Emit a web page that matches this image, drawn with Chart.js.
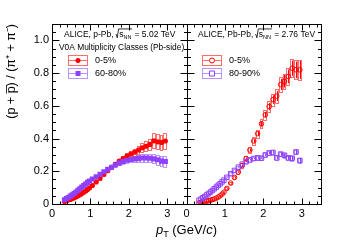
<!DOCTYPE html>
<html><head><meta charset="utf-8">
<script src="https://cdn.jsdelivr.net/npm/chart.js@4/dist/chart.umd.min.js"></script>
<style>html,body{margin:0;padding:0;background:#fff}canvas{display:block}</style>
</head><body>
<canvas id="c" width="357" height="241"></canvas>
<script>
// ---- data ----
const ptBins = [0.325,0.375,0.425,0.475,0.525,0.575,0.625,0.675,0.725,0.775,0.825,0.875,0.925,0.975,
  1.05,1.15,1.25,1.35,1.45,1.55,1.65,1.75,1.85,1.95,2.05,2.15,2.25,2.35,2.45,2.55,2.65,2.75,2.85,2.95];
const ptHalfWidth = [0.025,0.025,0.025,0.025,0.025,0.025,0.025,0.025,0.025,0.025,0.025,0.025,0.025,0.025,
  0.05,0.05,0.05,0.05,0.05,0.05,0.05,0.05,0.05,0.05,0.05,0.05,0.05,0.05,0.05,0.05,0.05,0.05,0.05,0.05];

// p-Pb 5.02 TeV, V0A 0-5%
const pPb_0_5 = [0.016,0.020,0.024,0.028,0.033,0.038,0.044,0.050,0.057,0.064,0.072,0.080,0.089,0.098,
  0.113,0.135,0.158,0.182,0.204,0.224,0.243,0.262,0.278,0.292,0.305,0.317,0.330,0.343,0.353,0.364,0.386,0.380,0.376,0.385];
const pPb_0_5_stat = [0.001,0.001,0.001,0.001,0.001,0.001,0.001,0.001,0.001,0.001,0.001,0.001,0.001,0.001,
  0.001,0.001,0.002,0.002,0.002,0.002,0.003,0.003,0.003,0.004,0.004,0.005,0.005,0.006,0.006,0.007,0.008,0.009,0.010,0.012];
const pPb_0_5_sys = [0.001,0.0015,0.002,0.002,0.0025,0.003,0.003,0.0035,0.004,0.0045,0.005,0.0055,0.006,0.0065,
  0.007,0.008,0.009,0.010,0.011,0.012,0.013,0.014,0.016,0.018,0.020,0.022,0.025,0.027,0.030,0.035,0.045,0.045,0.048,0.050];

// p-Pb 5.02 TeV, V0A 60-80%
const pPb_60_80 = [0.026,0.033,0.040,0.048,0.056,0.064,0.073,0.083,0.093,0.103,0.113,0.122,0.132,0.141,
  0.153,0.167,0.181,0.197,0.212,0.225,0.238,0.250,0.260,0.267,0.272,0.276,0.279,0.281,0.281,0.280,0.276,0.270,0.262,0.260];
const pPb_60_80_stat = [0.001,0.001,0.001,0.001,0.001,0.001,0.001,0.001,0.001,0.001,0.001,0.001,0.001,0.001,
  0.001,0.001,0.002,0.002,0.002,0.002,0.002,0.003,0.003,0.003,0.004,0.004,0.005,0.005,0.006,0.006,0.007,0.008,0.009,0.010];
const pPb_60_80_sys = [0.002,0.002,0.003,0.003,0.003,0.004,0.004,0.005,0.005,0.006,0.006,0.007,0.007,0.008,
  0.008,0.009,0.010,0.011,0.011,0.012,0.012,0.013,0.013,0.014,0.016,0.018,0.020,0.022,0.024,0.026,0.028,0.030,0.032,0.034];

// Pb-Pb 2.76 TeV, 0-5%
const PbPb_0_5 = [0.008,0.010,0.012,0.014,0.017,0.020,0.023,0.027,0.031,0.036,0.042,0.050,0.060,0.072,
  0.095,0.128,0.162,0.195,0.235,0.278,0.330,0.385,0.430,0.490,0.545,0.595,0.638,0.660,0.730,0.750,0.780,0.830,0.820,0.820];
const PbPb_0_5_stat = [0.001,0.001,0.001,0.001,0.001,0.001,0.001,0.001,0.001,0.001,0.001,0.001,0.001,0.002,
  0.002,0.003,0.003,0.004,0.005,0.006,0.008,0.010,0.012,0.015,0.018,0.022,0.026,0.030,0.034,0.038,0.042,0.046,0.050,0.055];
const PbPb_0_5_sys = [0.001,0.001,0.001,0.0015,0.0015,0.002,0.002,0.002,0.0025,0.003,0.003,0.0035,0.004,0.005,
  0.006,0.008,0.010,0.012,0.014,0.016,0.019,0.022,0.025,0.028,0.031,0.034,0.037,0.040,0.044,0.047,0.050,0.055,0.058,0.060];

// Pb-Pb 2.76 TeV, 80-90%
const PbPb_80_90 = [0.022,0.030,0.038,0.046,0.055,0.064,0.073,0.083,0.093,0.103,0.114,0.124,0.135,0.146,
  0.163,0.185,0.205,0.225,0.243,0.258,0.270,0.278,0.282,0.280,0.300,0.312,0.315,0.282,0.305,0.298,0.282,0.280,0.318,0.266];
const PbPb_80_90_stat = [0.001,0.001,0.001,0.001,0.001,0.001,0.001,0.001,0.001,0.001,0.001,0.001,0.001,0.001,
  0.002,0.002,0.002,0.003,0.003,0.003,0.004,0.004,0.005,0.005,0.006,0.007,0.008,0.009,0.010,0.011,0.012,0.013,0.015,0.016];
const PbPb_80_90_sys = [0.003,0.003,0.003,0.004,0.004,0.004,0.005,0.005,0.005,0.006,0.006,0.006,0.007,0.007,
  0.008,0.008,0.009,0.009,0.010,0.010,0.011,0.011,0.012,0.012,0.012,0.013,0.013,0.013,0.014,0.014,0.014,0.015,0.015,0.015];

const xTickLabels = [0,1,2,3];
const yTickLabels = [0,0.2,0.4,0.6,0.8,1];

// ---- styles ----
const RED = '#ff0000', RED_BOX = 'rgba(255,60,60,0.75)';
const VIO = '#9040ff', VIO_BOX = 'rgba(160,100,255,0.7)';
const FONT = '"Liberation Sans", Arial, Helvetica, sans-serif';

const pts = arr => ptBins.map((x, i) => ({x, y: arr[i]}));

const seriesInfo = [
  {axis:'x1', vals:pPb_0_5, stat:pPb_0_5_stat, sys:pPb_0_5_sys, color:RED, box:RED_BOX},
  {axis:'x1', vals:pPb_60_80, stat:pPb_60_80_stat, sys:pPb_60_80_sys, color:VIO, box:VIO_BOX},
  {axis:'x2', vals:PbPb_0_5, stat:PbPb_0_5_stat, sys:PbPb_0_5_sys, color:RED, box:RED_BOX},
  {axis:'x2', vals:PbPb_80_90, stat:PbPb_80_90_stat, sys:PbPb_80_90_sys, color:VIO, box:VIO_BOX}
];

const errorPlugin = {
  id:'errs',
  beforeDatasetsDraw(chart){
    const ctx = chart.ctx, y = chart.scales.y;
    ctx.save();
    ctx.beginPath();
    ctx.rect(chart.chartArea.left, chart.chartArea.top, chart.chartArea.right-chart.chartArea.left, chart.chartArea.bottom-chart.chartArea.top);
    ctx.clip();
    ctx.lineWidth = 1;
    seriesInfo.forEach(s => {
      const x = chart.scales[s.axis];
      ptBins.forEach((pt, i) => {
        const x0 = Math.round(x.getPixelForValue(pt - ptHalfWidth[i])) + 0.5;
        const x1 = Math.round(x.getPixelForValue(pt + ptHalfWidth[i])) - 0.5;
        const y0 = Math.round(y.getPixelForValue(s.vals[i] + s.sys[i])) + 0.5;
        const y1 = Math.round(y.getPixelForValue(s.vals[i] - s.sys[i])) + 0.5;
        ctx.strokeStyle = s.box;
        ctx.strokeRect(x0, y0, Math.max(x1 - x0, 1), Math.max(y1 - y0, 1));
        const xc = Math.round(x.getPixelForValue(pt)) + 0.5;
        ctx.strokeStyle = s.color;
        ctx.beginPath();
        ctx.moveTo(xc, y.getPixelForValue(s.vals[i] + s.stat[i]));
        ctx.lineTo(xc, y.getPixelForValue(s.vals[i] - s.stat[i]));
        ctx.stroke();
      });
    });
    ctx.restore();
  }
};

function drawTicks(ctx, xs, y, ca) {
  const L = Math.round(xs.left) + 0.5, R = Math.round(xs.right) + 0.5;
  const T = Math.round(ca.top) + 0.5, B = Math.round(ca.bottom) + 0.5;
  ctx.strokeStyle = '#000'; ctx.lineWidth = 1;
  ctx.strokeRect(L, T, R - L, B - T);
  ctx.beginPath();
  for (let v = 0; v <= 1.1001; v += 0.05) {
    const major = Math.abs(v/0.2 - Math.round(v/0.2)) < 1e-6;
    const len = major ? 7 : 3.5;
    const py = Math.round(y.getPixelForValue(v)) + 0.5;
    ctx.moveTo(L, py); ctx.lineTo(L + len, py);
    ctx.moveTo(R, py); ctx.lineTo(R - len, py);
  }
  for (let v = 0; v <= 3.5001; v += 0.2) {
    const major = Math.abs(v - Math.round(v)) < 1e-6;
    const len = major ? 6 : 3;
    const px = Math.round(xs.getPixelForValue(v)) + 0.5;
    ctx.moveTo(px, B); ctx.lineTo(px, B - len);
    ctx.moveTo(px, T); ctx.lineTo(px, T + len);
  }
  ctx.stroke();
}

function aliceLabel(ctx, x, y, prefix, suffix, fs) {
  ctx.fillStyle = '#000';
  ctx.font = fs + 'px ' + FONT;
  ctx.textAlign = 'left'; ctx.textBaseline = 'alphabetic';
  ctx.fillText(prefix, x, y);
  x += ctx.measureText(prefix).width;
  const h = fs * 0.95;
  const sW = ctx.measureText('s').width;
  ctx.font = (fs * 0.65) + 'px ' + FONT;
  const nnW = ctx.measureText('NN').width;
  const end = x + 3.5 + sW + nnW + 0.5;
  ctx.strokeStyle = '#000'; ctx.lineWidth = 0.8;
  ctx.beginPath();
  ctx.moveTo(x, y - 3); ctx.lineTo(x + 1.3, y + 0.8); ctx.lineTo(x + 2.6, y - h); ctx.lineTo(end, y - h);
  ctx.stroke();
  ctx.font = fs + 'px ' + FONT;
  ctx.fillText('s', x + 3.2, y);
  ctx.font = (fs * 0.65) + 'px ' + FONT;
  ctx.fillText('NN', x + 3.2 + sW, y + 2);
  ctx.font = fs + 'px ' + FONT;
  ctx.fillText(suffix, end, y);
}

function legendEntry(ctx, bx, cy, boxColor, color, style, filled, label) {
  ctx.lineWidth = 1;
  ctx.strokeStyle = boxColor;
  ctx.strokeRect(bx + 0.5, cy - 4.5, 19, 10);
  ctx.beginPath();
  ctx.moveTo(bx + 1, cy + 0.5); ctx.lineTo(bx + 19, cy + 0.5);
  ctx.stroke();
  const mx = bx + 10, my = cy + 0.5;
  ctx.strokeStyle = color; ctx.fillStyle = color;
  ctx.beginPath();
  if (style === 'circle') ctx.arc(mx, my, 2.5, 0, Math.PI * 2);
  else ctx.rect(mx - 2.5, my - 2.5, 5, 5);
  if (filled) ctx.fill(); else { ctx.fillStyle = '#fff'; ctx.fill(); ctx.stroke(); }
  ctx.fillStyle = '#000';
  ctx.font = '9px ' + FONT;
  ctx.textAlign = 'left'; ctx.textBaseline = 'middle';
  ctx.fillText(label, bx + 27, cy + 0.5);
}

const framePlugin = {
  id:'frame',
  afterDraw(chart){
    const ctx = chart.ctx, ca = chart.chartArea, y = chart.scales.y;
    ctx.save();
    drawTicks(ctx, chart.scales.x1, y, ca);
    drawTicks(ctx, chart.scales.x2, y, ca);
    // panel texts
    aliceLabel(ctx, 64, 37, 'ALICE, p-Pb, ', ' = 5.02 TeV', 8.5);
    ctx.font = '8.4px ' + FONT; ctx.textAlign = 'left'; ctx.textBaseline = 'alphabetic';
    ctx.fillText('V0A Multiplicity Classes (Pb-side)', 59, 50);
    aliceLabel(ctx, 198, 37, 'ALICE, Pb-Pb, ', ' = 2.76 TeV', 8.5);
    legendEntry(ctx, 68, 60, RED_BOX, RED, 'circle', true, '0-5%');
    legendEntry(ctx, 68, 73, VIO_BOX, VIO, 'rect', true, '60-80%');
    legendEntry(ctx, 202, 60, RED_BOX, RED, 'circle', false, '0-5%');
    legendEntry(ctx, 202, 73, VIO_BOX, VIO, 'rect', false, '80-90%');
    // x title: p_T (GeV/c)
    const parts = [
      {t:'p', f:'italic 13px ' + FONT, dy:0},
      {t:'T', f:'9px ' + FONT, dy:3},
      {t:' (GeV/', f:'13px ' + FONT, dy:0},
      {t:'c', f:'italic 13px ' + FONT, dy:0},
      {t:')', f:'13px ' + FONT, dy:0}
    ];
    let w = 0;
    parts.forEach(p => { ctx.font = p.f; p.w = ctx.measureText(p.t).width; w += p.w; });
    let x = (chart.scales.x1.right) - w / 2;
    ctx.fillStyle = '#000'; ctx.textAlign = 'left'; ctx.textBaseline = 'alphabetic';
    parts.forEach(p => { ctx.font = p.f; ctx.fillText(p.t, x, 234 + p.dy); x += p.w; });
    ctx.restore();
  }
};

const xAxis = () => ({
  type:'linear', position:'bottom', stack:'pt', stackWeight:1, min:0, max:3.5, offset:false,
  afterBuildTicks(s){ s.ticks = xTickLabels.map(v => ({value:v})); },
  ticks:{stepSize:1, includeBounds:false, autoSkip:false, maxRotation:0, padding:3, color:'#000', font:{family:FONT, size:11}},
  grid:{display:false, drawTicks:false}, border:{display:false},
  afterFit(s){ s.height = 37; }
});

new Chart(document.getElementById('c'), {
  type:'scatter',
  data:{datasets:[
    {xAxisID:'x1', data:pts(pPb_60_80), pointStyle:'rect', pointRadius:3.6, backgroundColor:VIO, borderColor:VIO, borderWidth:0},
    {xAxisID:'x1', data:pts(pPb_0_5), pointStyle:'circle', pointRadius:2.6, backgroundColor:RED, borderColor:RED, borderWidth:0},
    {xAxisID:'x2', data:pts(PbPb_80_90), pointStyle:'rect', pointRadius:3.2, backgroundColor:'rgba(0,0,0,0)', borderColor:VIO, borderWidth:1},
    {xAxisID:'x2', data:pts(PbPb_0_5), pointStyle:'circle', pointRadius:2.3, backgroundColor:'rgba(0,0,0,0)', borderColor:RED, borderWidth:1}
  ]},
  options:{
    responsive:false, animation:false, events:[],
    layout:{padding:{left:0, right:36, top:24, bottom:0}},
    plugins:{legend:{display:false}, tooltip:{enabled:false}},
    scales:{
      x1:xAxis(), x2:xAxis(),
      y:{type:'linear', position:'left', min:0, max:1.1,
        afterBuildTicks(s){ s.ticks = yTickLabels.map(v => ({value:v})); },
        ticks:{padding:3, color:'#000', font:{family:FONT, size:11}},
        grid:{display:false, drawTicks:false}, border:{display:false},
        title:{display:true, text:'(p + p\u0305) / (\u03C0\u207A + \u03C0\u207B)', align:'end', color:'#000', font:{family:FONT, size:12.5}, padding:{top:4, bottom:0}},
        afterFit(s){ s.width = 52; }
      }
    }
  },
  plugins:[errorPlugin, framePlugin]
});
</script>
</body></html>
